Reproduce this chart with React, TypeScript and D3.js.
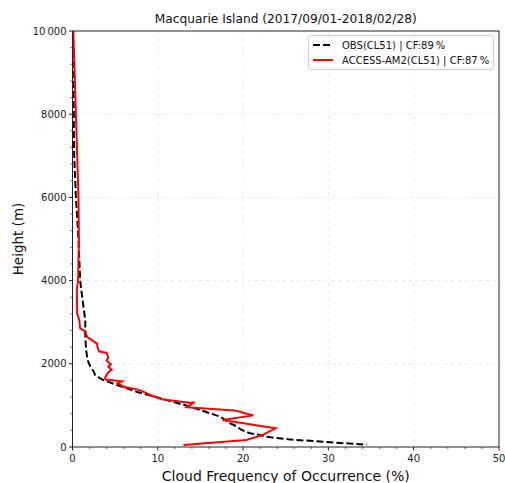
import React from "react";
import * as d3 from "d3";

const title = "Macquarie Island (2017/09/01-2018/02/28)";
const xLabel = "Cloud Frequency of Occurrence (%)";
const yLabel = "Height (m)";

const xTicks = [0, 10, 20, 30, 40, 50];
const yTicks = [0, 2000, 4000, 6000, 8000, 10000];
const yTickLabels = ["0", "2000", "4000", "6000", "8000", "10\u2009000"];

const obsName = "OBS(CL51) | CF:89\u2009%";
const modelName = "ACCESS-AM2(CL51) | CF:87\u2009%";

const obsHeight = [10000, 9000, 8000, 7600, 7000, 6500, 6000, 5000, 4000, 3500, 3050, 2650, 2330, 2100, 1930, 1810, 1730, 1610, 1490, 1330, 1170, 970, 730, 570, 490, 425, 330, 288, 248, 185, 113, 55];
const obsValue = [0.05, 0.1, 0.15, 0.15, 0.2, 0.3, 0.4, 0.7, 0.9, 1.2, 1.5, 1.5, 1.6, 1.75, 2.1, 2.5, 2.65, 3.6, 5.2, 7.5, 10.3, 13.8, 17.3, 18.5, 19.3, 19.7, 20.8, 22.0, 22.6, 25.3, 30.2, 34.5];

const modelHeight = [10000, 9000, 8000, 7000, 6000, 5000, 4000, 3770, 3200, 3050, 2850, 2780, 2650, 2480, 2420, 2300, 2260, 2150, 2080, 1990, 1930, 1860, 1800, 1660, 1620, 1580, 1530, 1450, 1380, 1330, 1250, 1150, 1060, 1080, 955, 880, 840, 760, 650, 450, 290, 170, 50];
const modelValue = [0.1, 0.25, 0.4, 0.55, 0.7, 0.75, 0.65, 0.5, 0.55, 0.8, 0.9, 1.5, 1.7, 2.9, 2.9, 3.1, 4.0, 4.2, 4.0, 4.5, 4.2, 4.6, 4.2, 3.8, 3.9, 5.8, 5.3, 6.0, 7.7, 8.3, 9.1, 10.5, 13.9, 14.3, 13.4, 19.0, 19.7, 21.2, 17.6, 23.8, 22.3, 20.4, 13.0];

const W = 505;
const H = 483;
const M = { left: 72.5, right: 499, top: 31, bottom: 447 };
const FONT = "DejaVu Sans, sans-serif";

export default function App() {
  const x = d3.scaleLinear().domain([0, 50]).range([M.left, M.right]);
  const y = d3.scaleLinear().domain([0, 10000]).range([M.bottom, M.top]);

  const line = d3
    .line<[number, number]>()
    .x((d) => x(d[0]))
    .y((d) => y(d[1]));

  const obsPts: [number, number][] = obsHeight.map((h, i) => [obsValue[i], h]);
  const modelPts: [number, number][] = modelHeight.map((h, i) => [modelValue[i], h]);

  const xMinor = d3.range(0, 50.001, 2).filter((v) => !xTicks.includes(v));
  const yMinor = d3.range(0, 10000.1, 400).filter((v) => !yTicks.includes(v));

  return (
    <svg width={W} height={H} style={{ position: "absolute", left: 0, top: 0 }} fontFamily={FONT}>
      <rect width={W} height={H} fill="#fff" />
      <defs>
        <clipPath id="plot">
          <rect x={M.left} y={M.top} width={M.right - M.left} height={M.bottom - M.top} />
        </clipPath>
      </defs>
      {/* grid */}
      {xTicks.slice(1, -1).map((v) => (
        <line key={"gx" + v} x1={x(v)} x2={x(v)} y1={M.top} y2={M.bottom} stroke="#e3e3e3" strokeWidth={0.8} strokeDasharray="4,3" />
      ))}
      {yTicks.slice(1, -1).map((v) => (
        <line key={"gy" + v} x1={M.left} x2={M.right} y1={y(v)} y2={y(v)} stroke="#e3e3e3" strokeWidth={0.8} strokeDasharray="4,3" />
      ))}
      <g clipPath="url(#plot)">
        <path d={line(obsPts) || ""} fill="none" stroke="#000" strokeWidth={2} strokeDasharray="7,3" />
        <path d={line(modelPts) || ""} fill="none" stroke="#ff0000" strokeWidth={2} strokeLinejoin="miter" />
      </g>
      {/* frame */}
      <rect x={M.left} y={M.top} width={M.right - M.left} height={M.bottom - M.top} fill="none" stroke="#222" strokeWidth={1} />
      {/* x ticks */}
      {xTicks.map((v) => (
        <g key={"xt" + v}>
          <line x1={x(v)} x2={x(v)} y1={M.bottom} y2={M.bottom + 3.5} stroke="#222" />
          <text x={x(v)} y={M.bottom + 15} fontSize={10} textAnchor="middle" fill="#222">
            {v}
          </text>
        </g>
      ))}
      {xMinor.map((v) => (
        <line key={"xm" + v} x1={x(v)} x2={x(v)} y1={M.bottom} y2={M.bottom + 2} stroke="#222" strokeWidth={0.7} />
      ))}
      {/* y ticks */}
      {yTicks.map((v, i) => (
        <g key={"yt" + v}>
          <line x1={M.left - 3.5} x2={M.left} y1={y(v)} y2={y(v)} stroke="#222" />
          <text x={M.left - 6} y={y(v) + 3.6} fontSize={10} textAnchor="end" fill="#222">
            {yTickLabels[i]}
          </text>
        </g>
      ))}
      {yMinor.map((v) => (
        <line key={"ym" + v} x1={M.left - 2} x2={M.left} y1={y(v)} y2={y(v)} stroke="#222" strokeWidth={0.7} />
      ))}
      {/* labels */}
      <text x={(M.left + M.right) / 2} y={23} fontSize={12.2} textAnchor="middle" fill="#111">
        {title}
      </text>
      <text x={(M.left + M.right) / 2} y={481} fontSize={14} textAnchor="middle" fill="#111">
        {xLabel}
      </text>
      <text transform={`translate(23,${(M.top + M.bottom) / 2}) rotate(-90)`} fontSize={13.5} textAnchor="middle" fill="#111">
        {yLabel}
      </text>
      {/* legend */}
      <g>
        <rect x={308.5} y={35.5} width={185} height={34} rx={2.5} fill="#fff" fillOpacity={0.85} stroke="#d0d0d0" strokeWidth={1} />
        <line x1={313} x2={333} y1={45} y2={45} stroke="#000" strokeWidth={2} strokeDasharray="7,3" />
        <text x={342} y={48.5} fontSize={10} fill="#111">
          {obsName}
        </text>
        <line x1={313} x2={333} y1={60} y2={60} stroke="#ff0000" strokeWidth={2} />
        <text x={342} y={63.5} fontSize={10} fill="#111">
          {modelName}
        </text>
      </g>
    </svg>
  );
}
